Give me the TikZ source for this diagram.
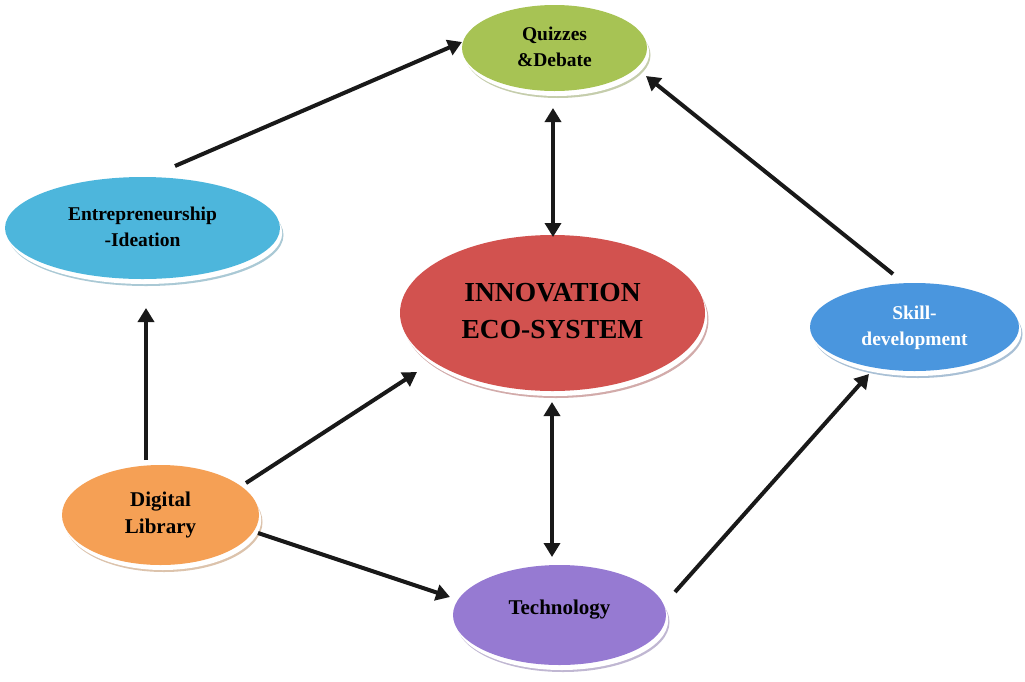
\documentclass[tikz,border=0pt]{standalone}
\usepackage{fontspec}
\setmainfont{Liberation Serif}
\usetikzlibrary{arrows.meta,shapes.geometric}
\definecolor{cquiz}{HTML}{A7C354}
\definecolor{centr}{HTML}{4DB6DC}
\definecolor{cinno}{HTML}{D2524F}
\definecolor{cskill}{HTML}{4A96DE}
\definecolor{cdig}{HTML}{F5A055}
\definecolor{ctech}{HTML}{967AD2}
\tikzset{
  bub/.style={shape=ellipse, inner sep=0pt, outer sep=0pt, fill=#1, text=black,
    preaction={fill=#1!55!gray!55!white, transform canvas={shift={(3.5pt,-7pt)}}},
    preaction={fill=white, transform canvas={shift={(2.2pt,-5pt)}}}},
  smallfont/.style={font=\fontsize{19.5}{26}\selectfont\bfseries},
  midfont/.style={font=\fontsize{21}{27}\selectfont\bfseries},
  bigfont/.style={font=\fontsize{27.5}{37}\selectfont\bfseries},
  arr/.style={line width=4pt, draw=black!90, -{Triangle[length=14pt,width=16pt]}},
  darr/.style={line width=4pt, draw=black!90, {Triangle[length=14pt,width=16pt]}-{Triangle[length=14pt,width=16pt]}}
}
\begin{document}
\begin{tikzpicture}[x=1pt,y=-1pt]
\fill[white] (0,0) rectangle (1025,681);
\useasboundingbox (0,0) rectangle (1025,681);
\node[bub=cquiz, smallfont, minimum width=185pt, minimum height=86pt] (q) at (554.5,48)
  {\raisebox{-7pt}{\begin{tabular}{@{}c@{}}Quizzes\\\&Debate\end{tabular}}};
\node[bub=centr, smallfont, minimum width=275pt, minimum height=102pt] (e) at (142.5,228)
  {\raisebox{3pt}{\begin{tabular}{@{}c@{}}Entrepreneurship\\-Ideation\end{tabular}}};
\node[bub=cinno, bigfont, minimum width=305pt, minimum height=156pt] (i) at (552.5,313)
  {\raisebox{13pt}{\begin{tabular}{@{}c@{}}INNOVATION\\ECO-SYSTEM\end{tabular}}};
\node[bub=cskill, smallfont, text=white, minimum width=209pt, minimum height=88pt] (s) at (914.5,327)
  {\begin{tabular}{@{}c@{}}Skill-\\development\end{tabular}};
\node[bub=cdig, midfont, minimum width=197pt, minimum height=100pt] (d) at (160.5,515)
  {\raisebox{10pt}{\begin{tabular}{@{}c@{}}Digital\\Library\end{tabular}}};
\node[bub=ctech, midfont, minimum width=213pt, minimum height=100pt] (t) at (559.5,615)
  {\raisebox{15pt}{Technology}};
\draw[arr] ([shift={(32.5,-11)}]e.north) -- ([shift={(0,-6)}]q.west);
\draw[arr] ([shift={(-21.5,-9)}]s.north) -- ([shift={(-1,28)}]q.east);
\draw[darr] ([shift={(-1.5,17)}]q.south) -- ([shift={(0.5,2)}]i.north);
\draw[darr] ([shift={(-0.5,11)}]i.south) -- ([shift={(-7.5,-8)}]t.north);
\draw[arr] ([shift={(-14.5,-5)}]d.north) -- ([shift={(3.5,29)}]e.south);
\draw[arr] ([shift={(-13,-32)}]d.east) -- ([shift={(17,59)}]i.west);
\draw[arr] ([shift={(-1,18)}]d.east) -- ([shift={(-3,-18)}]t.west);
\draw[arr] ([shift={(9,-23)}]t.east) -- ([shift={(-45.5,3)}]s.south);
\end{tikzpicture}
\end{document}
